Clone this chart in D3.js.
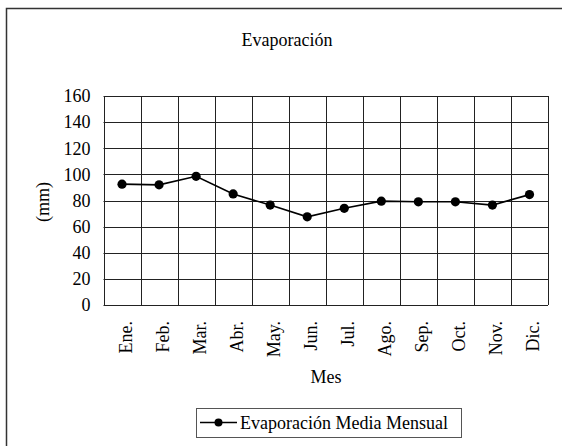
<!DOCTYPE html>
<html>
<head>
<meta charset="utf-8">
<script src="https://cdn.jsdelivr.net/npm/d3@7"></script>
<style>
html,body{margin:0;padding:0;background:#fff;}
svg{display:block;}
text{font-family:"Liberation Serif","Times New Roman",serif;fill:#000;}
</style>
</head>
<body>
<script>
const months = ["Ene.","Feb.","Mar.","Abr.","May.","Jun.","Jul.","Ago.","Sep.","Oct.","Nov.","Dic."];
const evaporacion = [92.5, 92, 98.5, 85, 76.5, 67.5, 74, 79.5, 79, 79, 76.5, 84.5];
const yTicks = [0, 20, 40, 60, 80, 100, 120, 140, 160];
const titleText = "Evaporación";
const xTitle = "Mes";
const yTitle = "(mm)";
const legendText = "Evaporación Media Mensual";

const W = 562, H = 446;
const m = {left: 103.5, right: 14, top: 96, bottom: 141};
const svg = d3.select("body").append("svg").attr("width", W).attr("height", H);

// outer frame (cropped by page)
svg.append("path").attr("d", `M6.5,${H+5} V8.5 H${W+5}`)
  .attr("fill", "none").attr("stroke", "#333").attr("stroke-width", 1.5);

const x = d3.scaleBand().domain(months).range([m.left, W - m.right]).padding(0);
const y = d3.scaleLinear().domain([0, 160]).range([H - m.bottom, m.top]);

const g = svg.append("g");
// horizontal grid
g.selectAll(".hg").data(yTicks).join("line")
  .attr("x1", m.left).attr("x2", W - m.right)
  .attr("y1", d => Math.round(y(d)) + 0.5).attr("y2", d => Math.round(y(d)) + 0.5)
  .attr("stroke", "#222").attr("stroke-width", 1);
// vertical grid at category boundaries
const bounds = months.map(d => x(d)).concat([W - m.right]);
g.selectAll(".vg").data(bounds).join("line")
  .attr("x1", d => Math.round(d) + 0.5).attr("x2", d => Math.round(d) + 0.5)
  .attr("y1", y(160)).attr("y2", y(0))
  .attr("stroke", "#222").attr("stroke-width", 1);

// y axis labels
const yAxis = d3.axisLeft(y).tickValues(yTicks).tickSize(0).tickPadding(13);
const ya = svg.append("g").attr("transform", `translate(${m.left},0)`).call(yAxis);
ya.select(".domain").remove();
ya.selectAll("text").style("font-size", "18px").style("font-family", '"Liberation Serif", serif').attr("fill", "#000");

// x axis labels (rotated)
const xAxis = d3.axisBottom(x).tickSize(0).tickPadding(0);
const xa = svg.append("g").attr("transform", `translate(0,${H - m.bottom})`).call(xAxis);
xa.select(".domain").remove();
xa.selectAll("text")
  .style("font-size", "18px").style("font-family", '"Liberation Serif", serif').attr("fill", "#000")
  .attr("text-anchor", "end").attr("dy", null).attr("y", null)
  .attr("transform", "translate(10,16) rotate(-90)");

// line
const line = d3.line().x((d, i) => x(months[i]) + x.bandwidth() / 2).y(d => y(d));
svg.append("path").datum(evaporacion).attr("d", line)
  .attr("fill", "none").attr("stroke", "#000").attr("stroke-width", 1.6);
svg.selectAll(".pt").data(evaporacion).join("circle")
  .attr("cx", (d, i) => x(months[i]) + x.bandwidth() / 2).attr("cy", d => y(d))
  .attr("r", 4.6).attr("fill", "#000");

// titles
svg.append("text").attr("x", 287).attr("y", 46).attr("text-anchor", "middle")
  .style("font-size", "18px").text(titleText);
svg.append("text").attr("x", 326).attr("y", 383).attr("text-anchor", "middle")
  .style("font-size", "18px").text(xTitle);
svg.append("text").attr("transform", "translate(49,202) rotate(-90)").attr("text-anchor", "middle")
  .style("font-size", "18px").text(yTitle);

// legend
svg.append("rect").attr("x", 196.5).attr("y", 408.5).attr("width", 265).attr("height", 29)
  .attr("fill", "#fff").attr("stroke", "#555").attr("stroke-width", 1);
svg.append("line").attr("x1", 200).attr("x2", 237).attr("y1", 422.5).attr("y2", 422.5)
  .attr("stroke", "#000").attr("stroke-width", 1.6);
svg.append("circle").attr("cx", 218.5).attr("cy", 422.5).attr("r", 4).attr("fill", "#000");
svg.append("text").attr("x", 240).attr("y", 428.5).style("font-size", "18px").text(legendText);
</script>
</body>
</html>
